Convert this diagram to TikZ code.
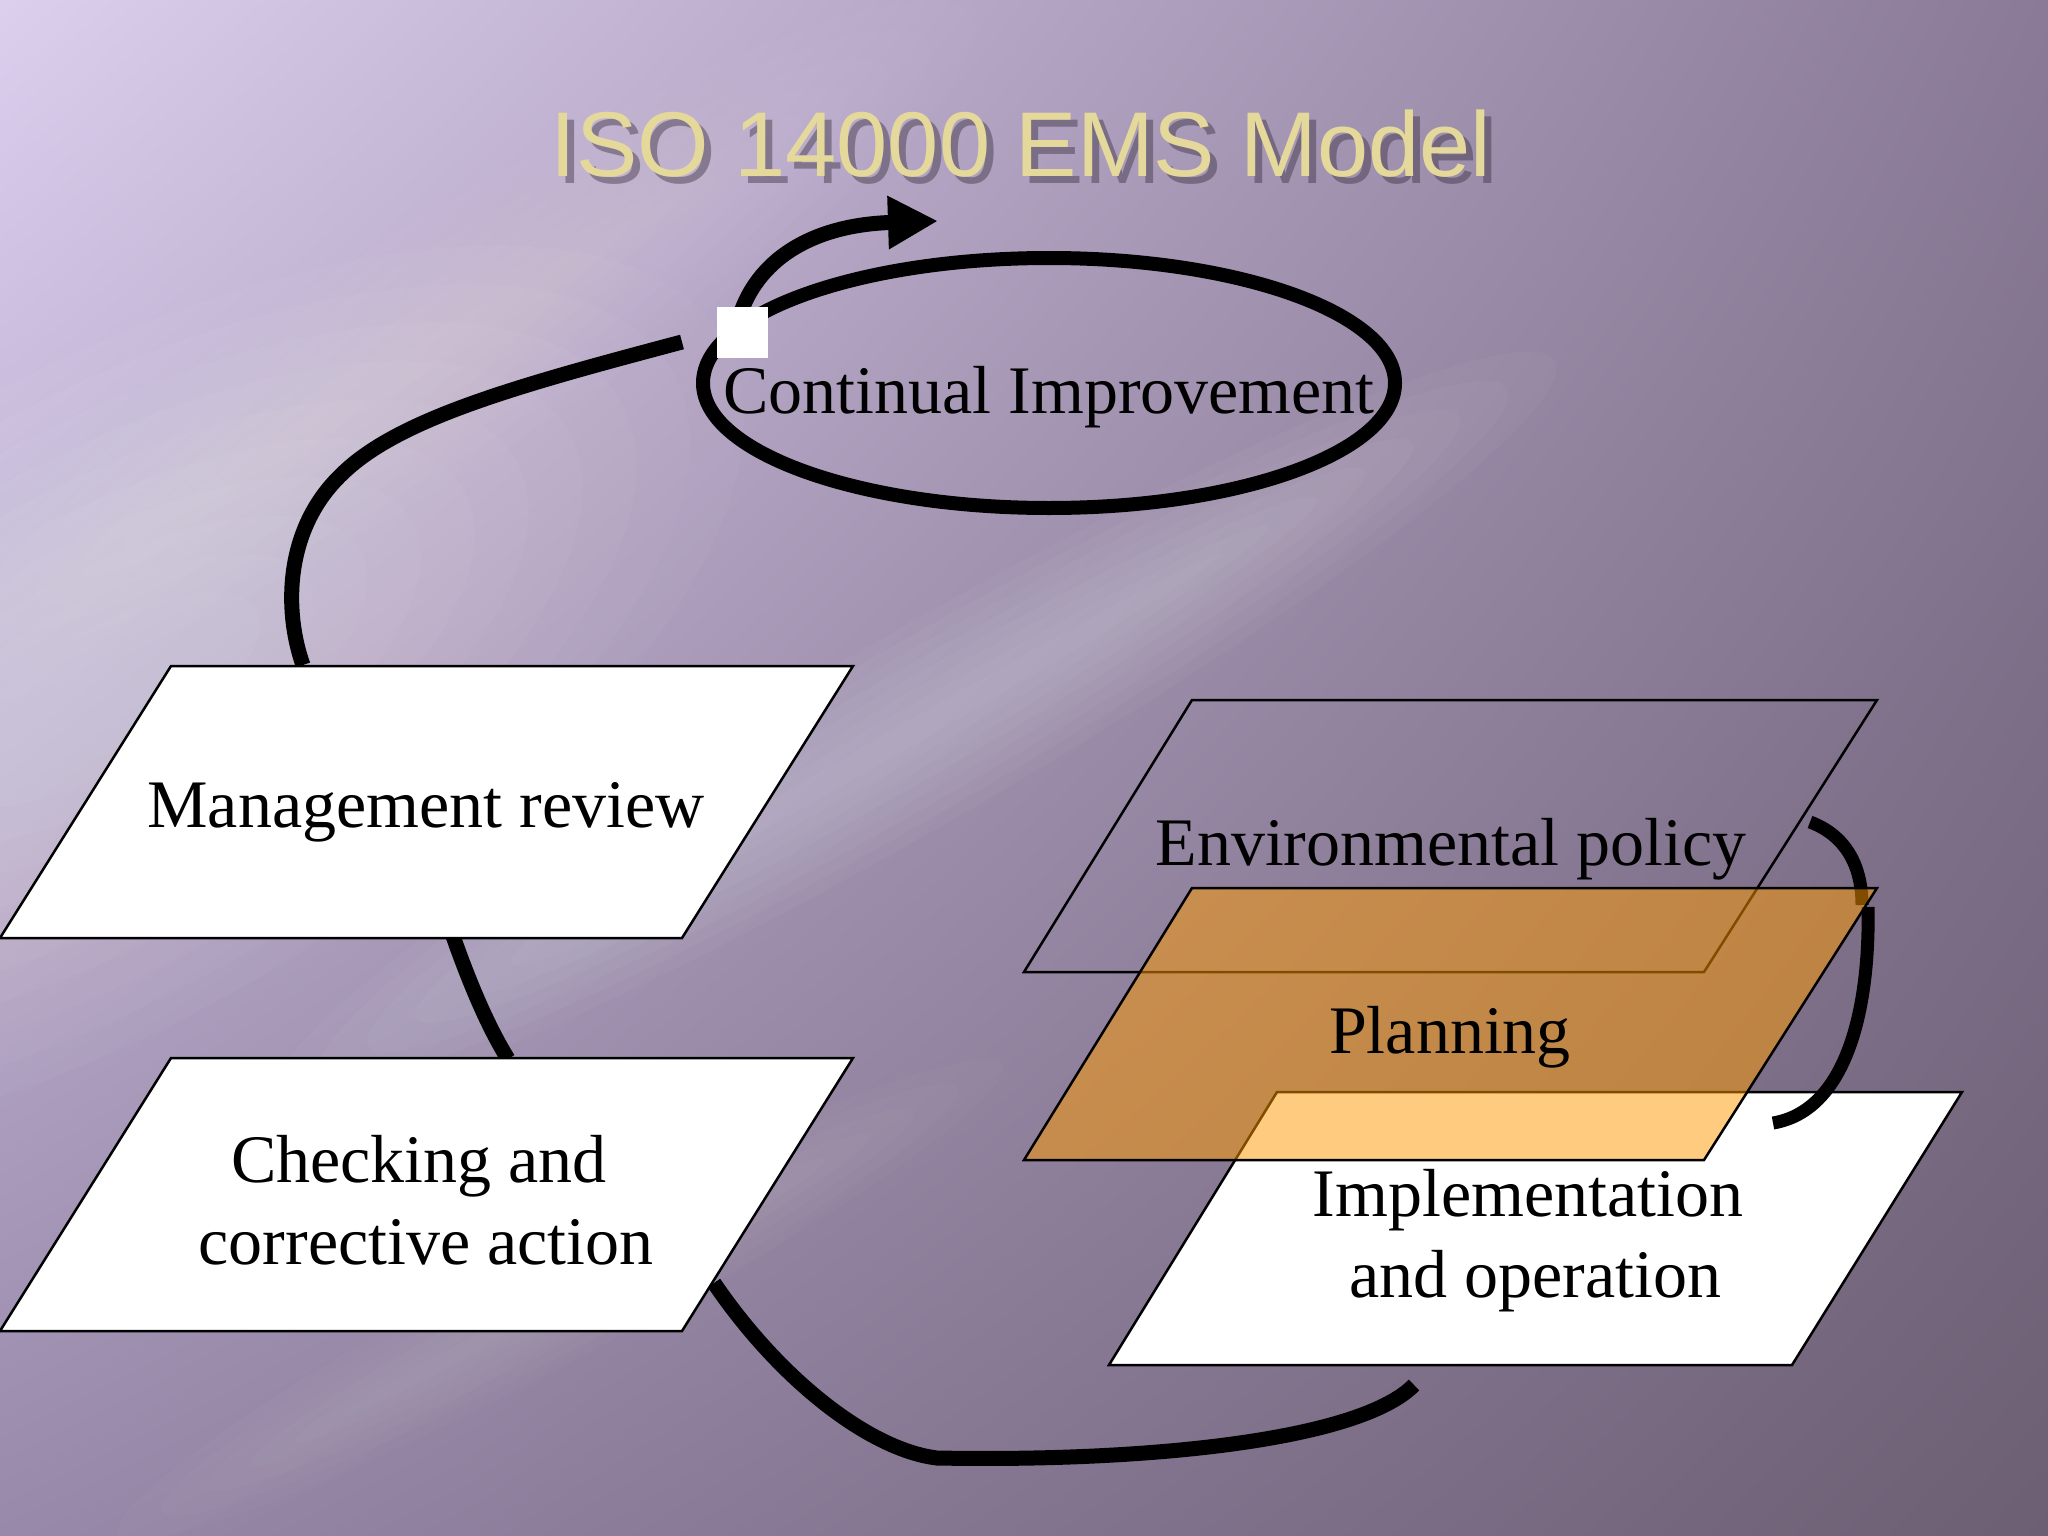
\documentclass[tikz,border=0pt]{standalone}
\usepackage{fontspec}
\setmainfont{Liberation Serif}
\newfontfamily\titlefont{Liberation Sans}
\usetikzlibrary{arrows.meta,shadings}
\definecolor{bgUL}{HTML}{DCCFEE}
\definecolor{bgUR}{HTML}{8A7A98}
\definecolor{bgLL}{HTML}{9889AA}
\definecolor{bgLR}{HTML}{6C5F73}
\definecolor{titlecol}{HTML}{E4D99A}
\definecolor{shadowcol}{HTML}{2E2535}
\definecolor{planorange}{HTML}{FF9900}
\tikzset{
  lbl/.style={font=\fontsize{68}{85}\selectfont, anchor=base, inner sep=0pt, text=black},
  parabox/.style={draw=black, line width=2.5, fill=white, line join=miter},
  conn/.style={draw=black, line width=15},
  thinconn/.style={draw=black, line width=13},
}
\begin{document}
\begin{tikzpicture}[x=1pt,y=-1pt]
\useasboundingbox (0,0) rectangle (2048,1536);
% background
\shade[upper left=bgUL, upper right=bgUR, lower left=bgLL, lower right=bgLR] (0,0) rectangle (2048,1536);
\begin{scope}
  \clip (0,0) rectangle (2048,1536);
  % broad glow on the left
  \foreach \i in {1,...,10} {
    \fill[white, opacity=0.032, shift={(100,700)}, rotate=30] (0,0) ellipse [x radius=120+60*\i, y radius=40+28*\i];
  }
  % main diagonal streak
  \foreach \i in {1,...,8} {
    \fill[white, opacity=0.032, shift={(914,731)}, rotate=30] (0,0) ellipse [x radius=300+55*\i, y radius=12*\i];
  }
  % upper soft streak
  \foreach \i in {1,...,8} {
    \fill[white, opacity=0.02, shift={(420,360)}, rotate=32] (0,0) ellipse [x radius=250+50*\i, y radius=15*\i];
  }
  % lower faint streak
  \foreach \i in {1,...,6} {
    \fill[white, opacity=0.018, shift={(560,1300)}, rotate=28] (0,0) ellipse [x radius=200+50*\i, y radius=10*\i];
  }
\end{scope}
% title with shadow
\node (titleshadow) [font=\titlefont\fontsize{92}{100}\selectfont, text=shadowcol, opacity=0.4, anchor=base, inner sep=0pt]
  at (1028,183) {ISO 14000 EMS Model};
\node (title) [font=\titlefont\fontsize{92}{100}\selectfont, text=titlecol, anchor=base, inner sep=0pt]
  at (1021,176) {ISO 14000 EMS Model};

% named coordinates
\coordinate (ellc) at (1049,383);
\coordinate (mrtop) at (303,665);
\coordinate (mrmid) at (343,473);
\coordinate (mrend) at (682,342);
\coordinate (arrstart) at (736,330);
\coordinate (arrtip) at (938,221);
\coordinate (mrbot) at (453,936);
\coordinate (chktop) at (508,1059);
\coordinate (chkright) at (714,1283);
\coordinate (botmid) at (937,1458);
\coordinate (implbot) at (1414,1385);
\coordinate (envright) at (1810,822);
\coordinate (envarcend) at (1862,905);
\coordinate (planarcstart) at (1868,907);
\coordinate (implarcend) at (1773,1123);

% connector: management review -> continual improvement
\draw[conn] (mrtop) .. controls (285,615) and (282,530) .. (mrmid)
                    .. controls (400,418) and (520,385) .. (mrend);
% ellipse
\draw[line width=14] (ellc) ellipse [x radius=346, y radius=125];
% arrow
\draw[line width=15, -{Triangle[length=50pt, width=50pt]}] (arrstart) .. controls (750,262) and (810,225) .. (arrtip);
% white square
\fill[white] (717,307) rectangle (768,358);
\node (ci) [lbl] at (1049,413) {Continual Improvement};

% connectors between left boxes
\draw[conn] (mrbot) .. controls (472,990) and (490,1030) .. (chktop);
\draw[conn] (chkright) .. controls (780,1380) and (870,1450) .. (botmid)
                       .. controls (1150,1462) and (1360,1440) .. (implbot);

% left boxes
\draw[parabox] (171,666) -- (853,666) -- (682,938) -- (0,938) -- cycle;
\node (mr) [lbl] at (426,827) {Management review};
\draw[parabox] (171,1058) -- (853,1058) -- (682,1331) -- (0,1331) -- cycle;
\node (chk1) [lbl] at (419,1182) {Checking and};
\node (chk2) [lbl] at (426,1264) {corrective action};

% right stack
\draw[parabox] (1277,1092) -- (1962,1092) -- (1792,1365) -- (1109,1365) -- cycle;
\draw[line width=2.5, line join=miter] (1192,700) -- (1877,700) -- (1704,972) -- (1024,972) -- cycle;
\draw[thinconn] (envright) .. controls (1845,835) and (1862,865) .. (envarcend);
\draw[thinconn] (planarcstart) .. controls (1870,1000) and (1850,1110) .. (implarcend);
\fill[planorange, opacity=0.5] (1192,888) -- (1877,888) -- (1704,1160) -- (1024,1160) -- cycle;
\draw[line width=2.5, line join=miter] (1192,888) -- (1877,888) -- (1704,1160) -- (1024,1160) -- cycle;

\node (env) [lbl] at (1451,865) {Environmental policy};
\node (plan) [lbl] at (1450,1053) {Planning};
\node (impl1) [lbl] at (1528,1216) {Implementation};
\node (impl2) [lbl] at (1535,1297) {and operation};
\end{tikzpicture}
\end{document}
